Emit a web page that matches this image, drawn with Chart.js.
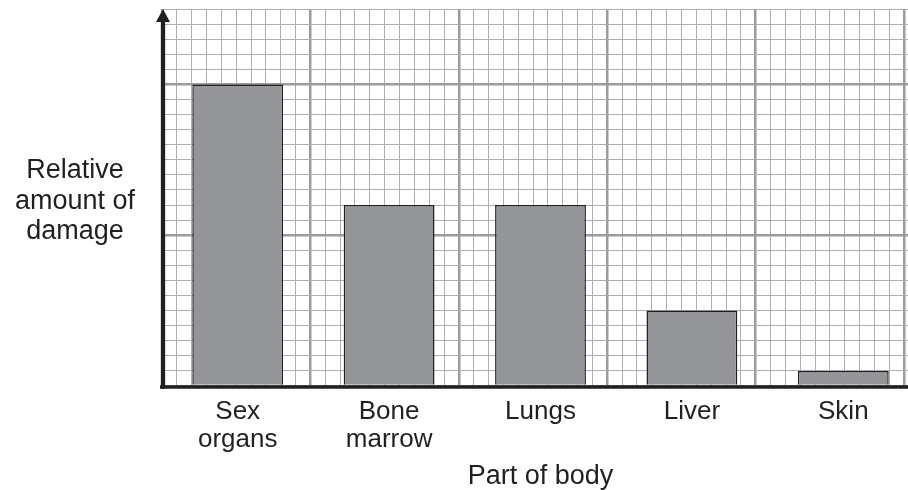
<!DOCTYPE html>
<html>
<head>
<meta charset="utf-8">
<script src="https://cdn.jsdelivr.net/npm/chart.js@4/dist/chart.umd.min.js"></script>
<style>
  html, body { margin: 0; padding: 0; overflow: hidden; background: #fff; }
  #damageChart { display: block; }
</style>
</head>
<body>
<canvas id="damageChart" width="930" height="490"></canvas>
<script>
const categories = [['Sex', 'organs'], ['Bone', 'marrow'], ['Lungs'], ['Liver'], ['Skin']];
const damage = [20, 12, 12, 5, 1];
const yTitle = ['Relative', 'amount of', 'damage'];
const xTitle = 'Part of body';

const ink = '#231f20';
const fontFamily = '"Liberation Sans", Arial, Helvetica, sans-serif';

// major line every 10 small squares
const gridColor = (c) => (c.tick && c.tick.value % 10 === 0 ? '#9a9b9e' : '#adaeb0');
const gridWidth = (c) => (c.tick && c.tick.value % 10 === 0 ? 2.5 : 1);

const decorations = {
  id: 'decorations',
  afterDraw(chart) {
    const { ctx, chartArea: a } = chart;
    ctx.save();
    ctx.fillStyle = ink;
    ctx.strokeStyle = ink;

    // x axis
    ctx.lineWidth = 3.5;
    ctx.beginPath();
    ctx.moveTo(a.left - 2, a.bottom + 1);
    ctx.lineTo(chart.width, a.bottom + 1);
    ctx.stroke();

    // y axis with arrow
    ctx.lineWidth = 4.3;
    ctx.beginPath();
    ctx.moveTo(a.left + 1, a.bottom + 2.7);
    ctx.lineTo(a.left + 1, a.top + 12);
    ctx.stroke();
    ctx.beginPath();
    ctx.moveTo(a.left + 1, a.top);
    ctx.lineTo(a.left + 1 - 7, a.top + 13);
    ctx.lineTo(a.left + 1 + 7, a.top + 13);
    ctx.closePath();
    ctx.fill();

    // titles
    ctx.font = `27px ${fontFamily}`;
    ctx.textAlign = 'center';
    ctx.textBaseline = 'alphabetic';
    yTitle.forEach((line, i) => ctx.fillText(line, 75, 178 + i * 30.6));
    ctx.fillText(xTitle, (a.left + a.right) / 2, 484);
    ctx.restore();
  }
};

new Chart(document.getElementById('damageChart'), {
  type: 'bar',
  data: {
    labels: categories,
    datasets: [{
      data: damage,
      backgroundColor: '#939598',
      borderColor: ink,
      borderWidth: 1.5,
      barPercentage: 0.6,
      categoryPercentage: 1,
      xAxisID: 'x',
      yAxisID: 'y'
    }]
  },
  options: {
    responsive: false,
    animation: false,
    devicePixelRatio: 1,
    layout: { padding: { top: 9, right: 11, bottom: 0, left: 0 } },
    plugins: { legend: { display: false }, tooltip: { enabled: false } },
    scales: {
      x: {
        type: 'category',
        position: 'bottom',
        offset: true,
        grid: { display: false, drawTicks: false },
        border: { display: false },
        ticks: {
          color: ink,
          padding: 12,
          maxRotation: 0,
          autoSkip: false,
          font: { family: fontFamily, size: 26, lineHeight: 1.06 }
        },
        afterFit: (s) => { s.height = 104; }
      },
      xg: {
        type: 'linear',
        position: 'bottom',
        min: 0,
        max: 50,
        grid: { color: gridColor, lineWidth: gridWidth, drawTicks: false },
        border: { display: false },
        ticks: { display: false, stepSize: 1, maxTicksLimit: 100 },
        afterFit: (s) => { s.height = 0; }
      },
      y: {
        type: 'linear',
        position: 'left',
        min: 0,
        max: 25,
        grid: { color: gridColor, lineWidth: gridWidth, drawTicks: false },
        border: { display: false },
        ticks: { display: false, stepSize: 1, maxTicksLimit: 100 },
        afterFit: (s) => { s.width = 162; }
      }
    }
  },
  plugins: [decorations]
});
</script>
</body>
</html>
